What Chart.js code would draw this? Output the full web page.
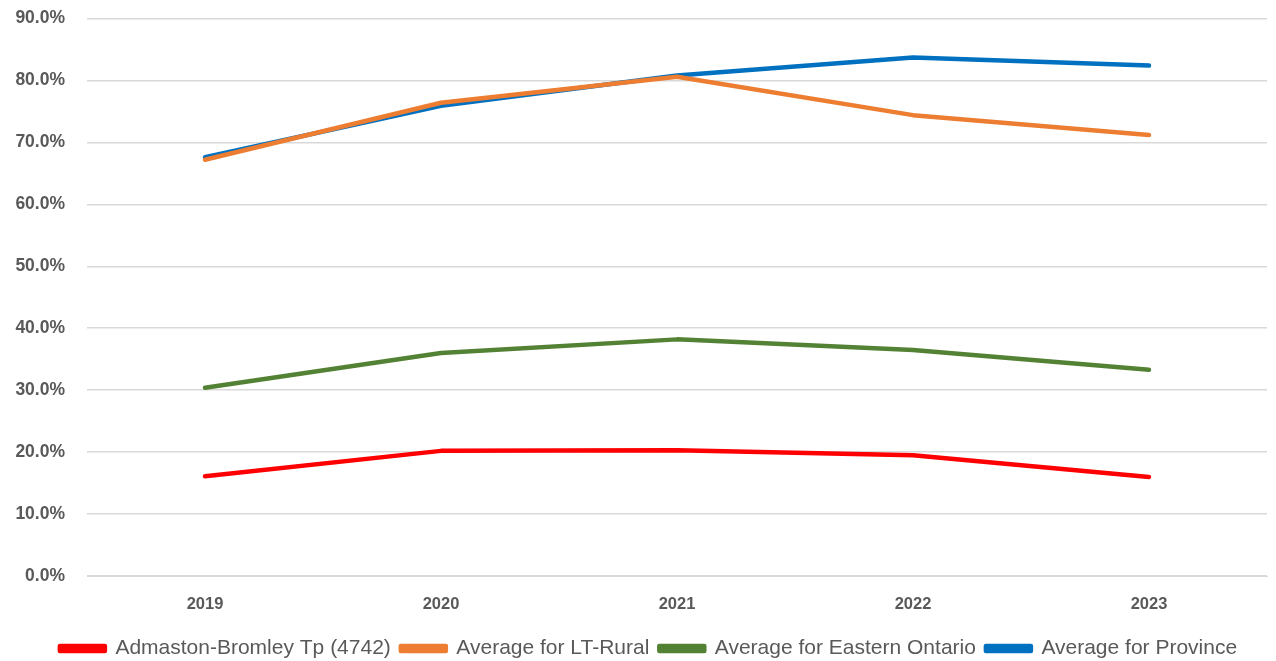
<!DOCTYPE html>
<html>
<head>
<meta charset="utf-8">
<script src="https://cdn.jsdelivr.net/npm/chart.js@4"></script>
<style>
html,body{margin:0;padding:0;background:#fff;}
#wrap{width:1276px;height:661px;position:relative;}
</style>
</head>
<body>
<div id="wrap"><canvas id="c" width="1276" height="661"></canvas></div>
<script>
const years = ['2019','2020','2021','2022','2023'];
const admaston = [16.1, 20.2, 20.3, 19.5, 16.0];
const ltRural = [67.2, 76.4, 80.6, 74.4, 71.2];
const easternOntario = [30.4, 36.0, 38.2, 36.5, 33.3];
const province = [67.6, 75.9, 80.8, 83.7, 82.4];
const yTicks = [0,10,20,30,40,50,60,70,80,90];

const mk = (label, data, color) => ({
  label, data, borderColor: color, backgroundColor: color,
  borderWidth: 4.5, pointRadius: 0, tension: 0, fill: false,
  borderCapStyle: 'round', borderJoinStyle: 'round'
});

const shiftLegend = {
  id: 'shiftLegend',
  afterLayout(chart) { if (chart.legend) chart.legend.left += 30; }
};

new Chart(document.getElementById('c'), {
  type: 'line',
  data: {
    labels: years,
    datasets: [
      mk('Admaston-Bromley Tp (4742)', admaston, '#FF0000'),
      mk('Average for LT-Rural', ltRural, '#ED7D31'),
      mk('Average for Eastern Ontario', easternOntario, '#548235'),
      mk('Average for Province', province, '#0070C0')
    ]
  },
  plugins: [shiftLegend],
  options: {
    responsive: false,
    animation: false,
    layout: { padding: { top: 0, right: 9, left: 0, bottom: -8 } },
    plugins: {
      tooltip: { enabled: false },
      legend: {
        position: 'bottom',
        labels: {
          color: '#595959',
          font: { family: 'Liberation Sans', size: 21 },
          boxWidth: 45, boxHeight: 5,
          padding: 10
        }
      }
    },
    scales: {
      x: {
        offset: true,
        afterFit: s => { s.height = 52; },
        grid: { display: false },
        border: { display: true, color: '#d9d9d9' },
        ticks: { color: '#595959', font: { family: 'Liberation Sans', size: 16.5, weight: 'bold' }, padding: 11 }
      },
      y: {
        min: 0, max: 90,
        afterFit: s => { s.width = 87; },
        afterBuildTicks: s => { s.ticks = yTicks.map(v => ({ value: v })); },
        grid: { color: '#d9d9d9', lineWidth: 1.5, drawTicks: true, tickLength: 14, tickColor: 'rgba(0,0,0,0)' },
        border: { display: false },
        ticks: {
          color: '#595959', padding: 8,
          font: { family: 'Liberation Sans', size: 17.5, weight: 'bold' },
          callback: v => v.toFixed(1) + '%'
        }
      }
    }
  }
});
</script>
</body>
</html>
